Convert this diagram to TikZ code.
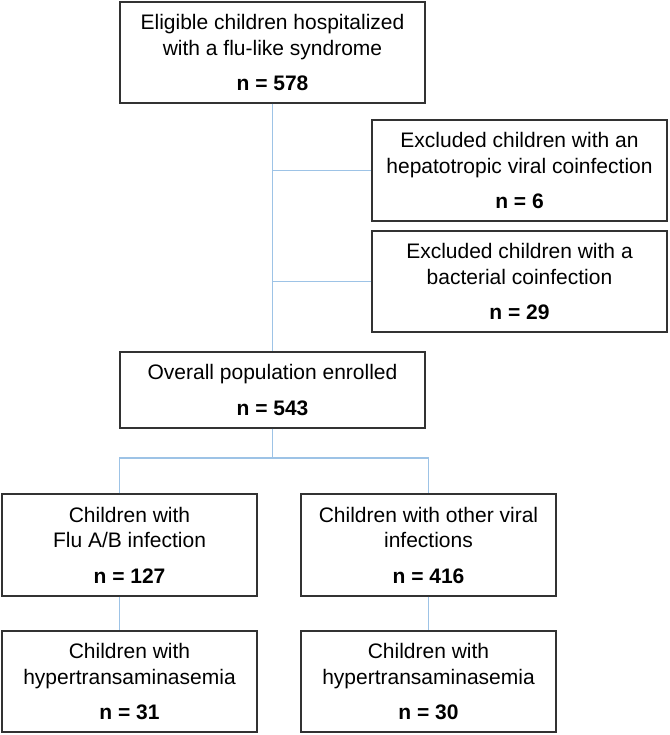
\documentclass[tikz,border=0pt]{standalone}
\usepackage{fontspec}
\setmainfont{Liberation Sans}
\usetikzlibrary{positioning}
\definecolor{boxgray}{RGB}{50,50,50}
\definecolor{linkblue}{RGB}{157,195,230}
\tikzset{x=1pt, y=-1pt,
  box/.style={draw=boxgray, line width=1.4pt, align=center, inner sep=0pt,
    font=\fontsize{21}{25.5}\selectfont},
  wide/.style={box, minimum width=305pt},
  excl/.style={box, minimum width=295pt, minimum height=101pt},
  sub/.style={box, minimum width=255pt, minimum height=102pt},
  link/.style={draw=linkblue, line width=1.1pt}}

\begin{document}
\begin{tikzpicture}
  \useasboundingbox (0,0) rectangle (669,735);

  \node (top) [wide, minimum height=101pt] at (272.5,52.5)
     {Eligible children hospitalized\\with a flu-like syndrome\\[10pt]\textbf{n = 578}};
  \node (ex1) [excl] at (519.5,170.5)
     {Excluded children with an\\hepatotropic viral coinfection\\[10pt]\textbf{n = 6}};
  \node (ex2) [excl, below of=ex1, node distance=111pt]
     {Excluded children with a\\bacterial coinfection\\[10pt]\textbf{n = 29}};
  \node (all) [wide, minimum height=76pt, below of=top, node distance=337.5pt]
     {Overall population enrolled\\[10pt]\textbf{n = 543}};

  \node (flu) [sub] at (129.5,545)
     {Children with\\Flu A/B infection\\[10pt]\textbf{n = 127}};
  \node (oth) [sub, right of=flu, node distance=299pt]
     {Children with other viral\\infections\\[10pt]\textbf{n = 416}};
  \node (fluH) [sub, minimum height=101pt, below of=flu, node distance=136.5pt]
     {Children with\\hypertransaminasemia\\[10pt]\textbf{n = 31}};
  \node (othH) [sub, minimum height=101pt, below of=oth, node distance=136.5pt]
     {Children with\\hypertransaminasemia\\[10pt]\textbf{n = 30}};

  \coordinate (split) at (272.5,458);

  \draw[link] (top) -- (all);
  \draw[link] (ex1.west -| top.south) -- (ex1.west);
  \draw[link] (ex2.west -| top.south) -- (ex2.west);
  \draw[link] (all) -- (split);
  \draw[link] (flu.north -| all.west) |- (split) -| (oth.north);
  \draw[link] (flu.south -| all.west) -- (fluH.north -| all.west);
  \draw[link] (oth) -- (othH);

\end{tikzpicture}
\end{document}
